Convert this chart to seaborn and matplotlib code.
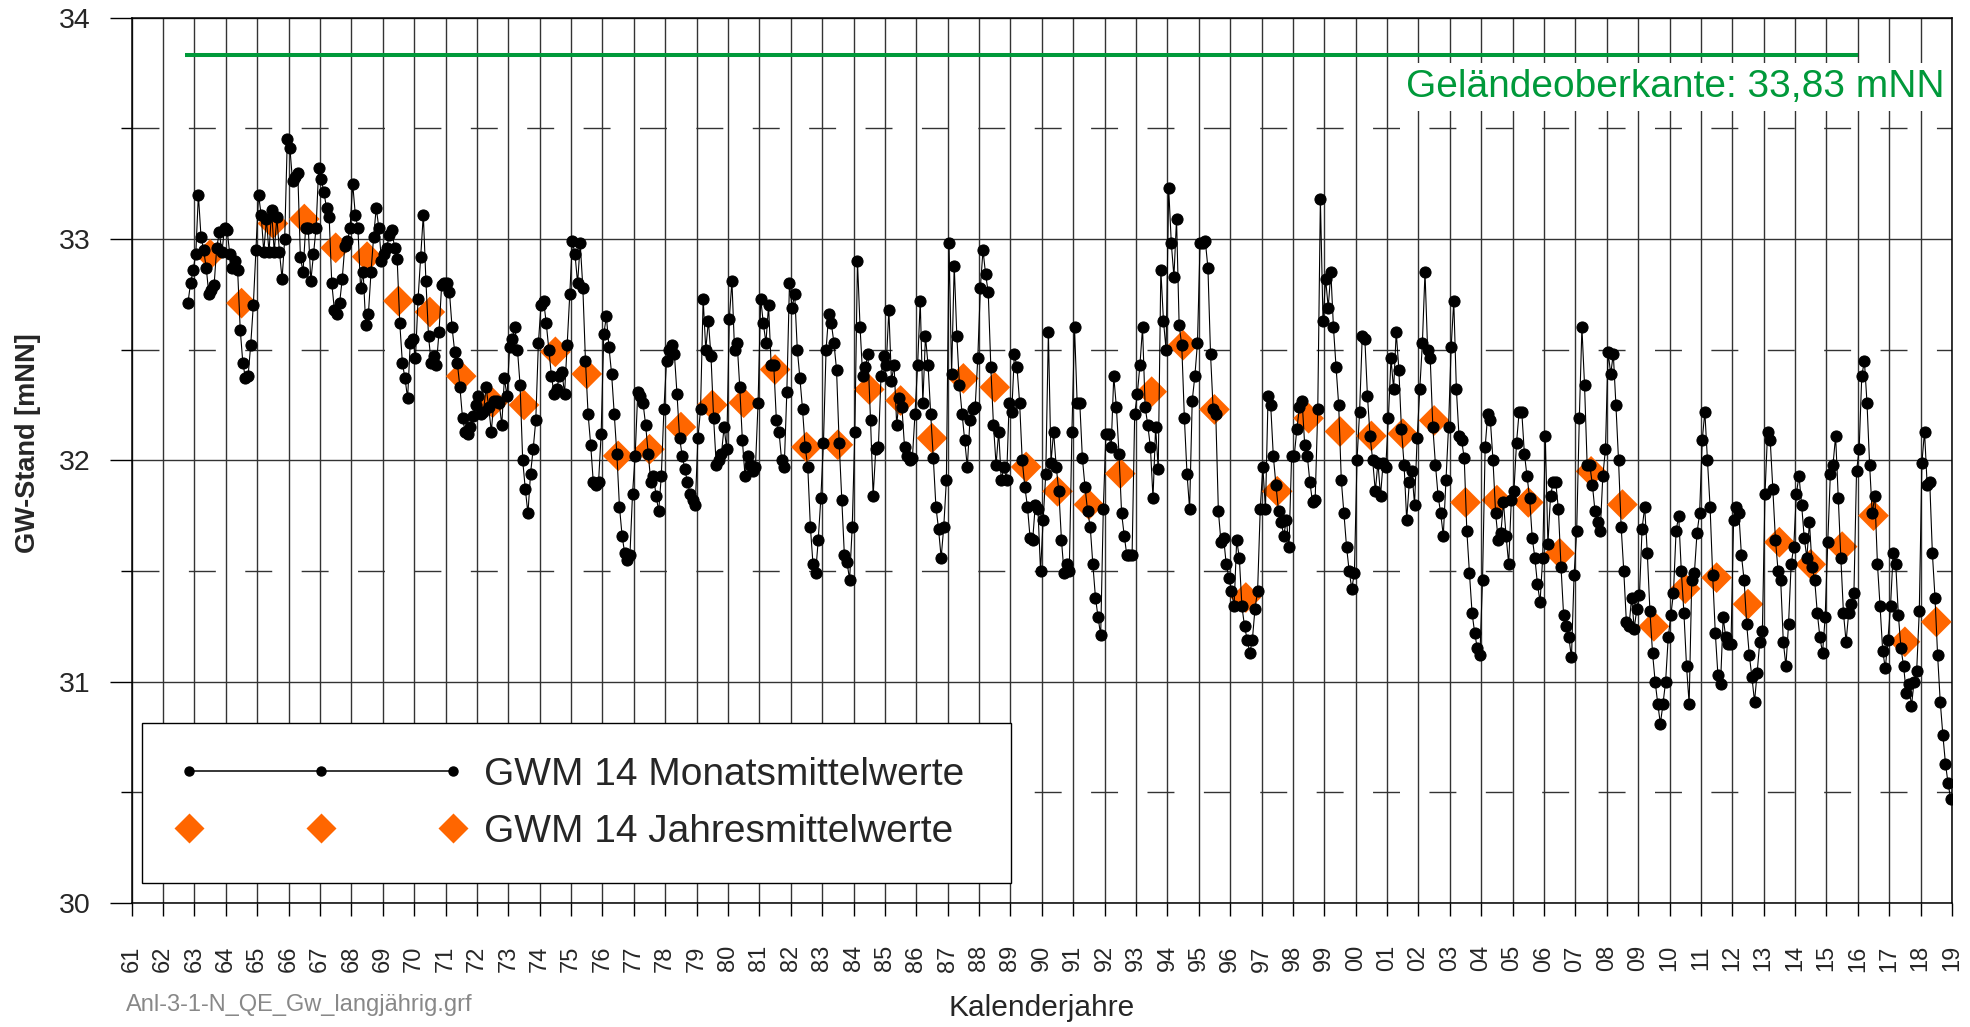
import numpy as np
import pandas as pd
import matplotlib.pyplot as plt
import seaborn as sns
from matplotlib.lines import Line2D
from matplotlib.legend_handler import HandlerLine2D

# GWM 14 Monatsmittelwerte [mNN], Okt 1962 - Dez 2018, eine Zeile je Jahr
gw_1960s = [
    32.71, 32.80, 32.86,                                                          # 1962 (Okt-Dez)
    32.93, 33.20, 33.01, 32.95, 32.87, 32.75, 32.77, 32.79, 32.96, 33.03, 32.94, 33.05,  # 1963
    33.04, 32.93, 32.87, 32.90, 32.86, 32.59, 32.44, 32.37, 32.38, 32.52, 32.70, 32.95,  # 1964
    33.20, 33.11, 32.94, 33.09, 32.94, 33.13, 32.94, 33.10, 32.94, 32.82, 33.00, 33.45,  # 1965
    33.41, 33.26, 33.28, 33.30, 32.92, 32.85, 33.05, 33.05, 32.81, 32.93, 33.05, 33.32,  # 1966
    33.27, 33.21, 33.14, 33.10, 32.80, 32.68, 32.66, 32.71, 32.82, 32.97, 32.99, 33.05,  # 1967
    33.25, 33.11, 33.05, 32.78, 32.85, 32.61, 32.66, 32.85, 33.01, 33.14, 33.05, 32.90,  # 1968
    32.93, 32.96, 33.02, 33.04, 32.96, 32.91, 32.62, 32.44, 32.37, 32.28, 32.53, 32.55,  # 1969
]
gw_1970s = [
    32.46, 32.73, 32.92, 33.11, 32.81, 32.56, 32.44, 32.47, 32.43, 32.58, 32.79, 32.80,  # 1970
    32.80, 32.76, 32.60, 32.49, 32.44, 32.33, 32.19, 32.13, 32.12, 32.15, 32.20, 32.25,  # 1971
    32.29, 32.21, 32.22, 32.33, 32.24, 32.13, 32.27, 32.27, 32.26, 32.16, 32.37, 32.29,  # 1972
    32.51, 32.55, 32.60, 32.50, 32.34, 32.00, 31.87, 31.76, 31.94, 32.05, 32.18, 32.53,  # 1973
    32.70, 32.72, 32.62, 32.50, 32.38, 32.30, 32.32, 32.38, 32.40, 32.30, 32.52, 32.75,  # 1974
    32.99, 32.93, 32.80, 32.98, 32.78, 32.45, 32.21, 32.07, 31.90, 31.89, 31.90, 32.12,  # 1975
    32.57, 32.65, 32.51, 32.39, 32.21, 32.03, 31.79, 31.66, 31.58, 31.55, 31.57, 31.85,  # 1976
    32.02, 32.31, 32.29, 32.26, 32.16, 32.03, 31.90, 31.93, 31.84, 31.77, 31.93, 32.23,  # 1977
    32.45, 32.50, 32.52, 32.48, 32.30, 32.10, 32.02, 31.96, 31.90, 31.85, 31.82, 31.80,  # 1978
    32.10, 32.23, 32.73, 32.50, 32.63, 32.47, 32.19, 31.98, 32.00, 32.03, 32.15, 32.05,  # 1979
]
gw_1980s = [
    32.64, 32.81, 32.50, 32.53, 32.33, 32.09, 31.93, 32.02, 31.98, 31.95, 31.97, 32.26,  # 1980
    32.73, 32.62, 32.53, 32.70, 32.43, 32.43, 32.18, 32.13, 32.00, 31.97, 32.31, 32.80,  # 1981
    32.69, 32.75, 32.50, 32.37, 32.23, 32.06, 31.97, 31.70, 31.53, 31.49, 31.64, 31.83,  # 1982
    32.08, 32.50, 32.66, 32.62, 32.53, 32.41, 32.08, 31.82, 31.57, 31.54, 31.46, 31.70,  # 1983
    32.13, 32.90, 32.60, 32.38, 32.42, 32.48, 32.18, 31.84, 32.05, 32.06, 32.38, 32.47,  # 1984
    32.43, 32.68, 32.36, 32.43, 32.16, 32.28, 32.24, 32.06, 32.02, 32.00, 32.01, 32.21,  # 1985
    32.43, 32.72, 32.26, 32.56, 32.43, 32.21, 32.01, 31.79, 31.69, 31.56, 31.70, 31.91,  # 1986
    32.98, 32.39, 32.88, 32.56, 32.34, 32.21, 32.09, 31.97, 32.18, 32.23, 32.24, 32.46,  # 1987
    32.78, 32.95, 32.84, 32.76, 32.42, 32.16, 31.98, 32.13, 31.91, 31.97, 31.91, 32.26,  # 1988
    32.22, 32.48, 32.42, 32.26, 32.00, 31.88, 31.79, 31.65, 31.64, 31.80, 31.78, 31.50,  # 1989
]
gw_1990s = [
    31.73, 31.94, 32.58, 31.99, 32.13, 31.97, 31.86, 31.64, 31.49, 31.53, 31.50, 32.13,  # 1990
    32.60, 32.26, 32.26, 32.01, 31.88, 31.77, 31.70, 31.53, 31.38, 31.29, 31.21, 31.78,  # 1991
    32.12, 32.12, 32.06, 32.38, 32.24, 32.03, 31.76, 31.66, 31.57, 31.57, 31.57, 32.21,  # 1992
    32.30, 32.43, 32.60, 32.24, 32.16, 32.06, 31.83, 32.15, 31.96, 32.86, 32.63, 32.50,  # 1993
    33.23, 32.98, 32.83, 33.09, 32.61, 32.52, 32.19, 31.94, 31.78, 32.27, 32.38, 32.53,  # 1994
    32.98, 32.98, 32.99, 32.87, 32.48, 32.23, 32.21, 31.77, 31.63, 31.65, 31.53, 31.47,  # 1995
    31.41, 31.34, 31.64, 31.56, 31.34, 31.25, 31.19, 31.13, 31.19, 31.33, 31.41, 31.78,  # 1996
    31.97, 31.78, 32.29, 32.25, 32.02, 31.89, 31.77, 31.72, 31.66, 31.73, 31.61, 32.02,  # 1997
    32.02, 32.14, 32.24, 32.27, 32.07, 32.02, 31.90, 31.81, 31.82, 32.23, 33.18, 32.63,  # 1998
    32.82, 32.69, 32.85, 32.60, 32.42, 32.25, 31.91, 31.76, 31.61, 31.50, 31.42, 31.49,  # 1999
]
gw_2000s = [
    32.00, 32.22, 32.56, 32.55, 32.29, 32.11, 32.00, 31.86, 31.99, 31.84, 31.99, 31.97,  # 2000
    32.19, 32.46, 32.32, 32.58, 32.41, 32.14, 31.98, 31.73, 31.90, 31.95, 31.80, 32.10,  # 2001
    32.32, 32.53, 32.85, 32.50, 32.46, 32.15, 31.98, 31.84, 31.76, 31.66, 31.91, 32.15,  # 2002
    32.51, 32.72, 32.32, 32.11, 32.09, 32.01, 31.68, 31.49, 31.31, 31.22, 31.15, 31.12,  # 2003
    31.46, 32.06, 32.21, 32.18, 32.00, 31.76, 31.64, 31.67, 31.81, 31.66, 31.53, 31.82,  # 2004
    31.86, 32.08, 32.22, 32.22, 32.03, 31.93, 31.83, 31.65, 31.56, 31.44, 31.36, 31.56,  # 2005
    32.11, 31.62, 31.84, 31.90, 31.90, 31.78, 31.52, 31.30, 31.25, 31.20, 31.11, 31.48,  # 2006
    31.68, 32.19, 32.60, 32.34, 31.98, 31.98, 31.89, 31.77, 31.72, 31.68, 31.93, 32.05,  # 2007
    32.49, 32.39, 32.48, 32.25, 32.00, 31.70, 31.50, 31.27, 31.25, 31.38, 31.24, 31.33,  # 2008
    31.39, 31.69, 31.79, 31.58, 31.32, 31.13, 31.00, 30.90, 30.81, 30.90, 31.00, 31.20,  # 2009
]
gw_2010s = [
    31.30, 31.40, 31.68, 31.75, 31.50, 31.31, 31.07, 30.90, 31.46, 31.49, 31.67, 31.76,  # 2010
    32.09, 32.22, 32.00, 31.79, 31.48, 31.22, 31.03, 30.99, 31.29, 31.20, 31.17, 31.17,  # 2011
    31.73, 31.79, 31.76, 31.57, 31.46, 31.26, 31.12, 31.02, 30.91, 31.04, 31.18, 31.23,  # 2012
    31.85, 32.13, 32.09, 31.87, 31.64, 31.50, 31.46, 31.18, 31.07, 31.26, 31.53, 31.61,  # 2013
    31.85, 31.93, 31.80, 31.65, 31.56, 31.72, 31.52, 31.46, 31.31, 31.20, 31.13, 31.29,  # 2014
    31.63, 31.94, 31.98, 32.11, 31.83, 31.56, 31.31, 31.18, 31.31, 31.35, 31.40, 31.95,  # 2015
    32.05, 32.38, 32.45, 32.26, 31.98, 31.76, 31.84, 31.53, 31.34, 31.14, 31.06, 31.19,  # 2016
    31.34, 31.58, 31.53, 31.30, 31.15, 31.07, 30.95, 30.99, 30.89, 31.00, 31.05, 31.32,  # 2017
    31.99, 32.13, 31.89, 31.90, 31.58, 31.38, 31.12, 30.91, 30.76, 30.63, 30.54, 30.47,  # 2018
]

# GWM 14 Jahresmittelwerte [mNN]
years = list(range(1963, 2019))
gw_yearly = [
    32.93, 32.71, 33.07, 33.09, 32.96, 32.92, 32.72,                # 1963-69
    32.67, 32.38, 32.26, 32.25, 32.49, 32.39, 32.02, 32.05, 32.15, 32.25,  # 1970-79
    32.26, 32.41, 32.06, 32.07, 32.32, 32.27, 32.10, 32.37, 32.33, 31.97,  # 1980-89
    31.86, 31.80, 31.94, 32.31, 32.52, 32.23, 31.38, 31.86, 32.19, 32.13,  # 1990-99
    32.11, 32.12, 32.18, 31.81, 31.82, 31.81, 31.58, 31.95, 31.80, 31.25,  # 2000-09
    31.42, 31.47, 31.35, 31.63, 31.53, 31.61, 31.75, 31.18, 31.27,         # 2010-18
]

# Gelaendeoberkante
gok_level = 33.83
gok_from, gok_to = 1962.7, 2016.0

green = '#00993a'
orange = '#ff6600'

# Monatswerte in Dezimaljahre (Monatsmitte)
monthly = gw_1960s + gw_1970s + gw_1980s + gw_1990s + gw_2000s + gw_2010s
dates = pd.date_range('1962-10-01', periods=len(monthly), freq='MS')
df_m = pd.DataFrame({'t': dates.year + (dates.month - 0.5) / 12, 'gw': monthly})
df_y = pd.DataFrame({'t': np.array(years) + 0.5, 'gw': gw_yearly})

sns.set_style('white', {'xtick.bottom': True, 'ytick.left': True})
plt.rcParams['font.family'] = ['Liberation Sans', 'DejaVu Sans']

fig = plt.figure(figsize=(19.7, 10.27), dpi=100)
ax = fig.add_axes([0.06685, 0.12074, 0.92401, 0.86212])

# Jahresmittel (Rauten) unter den Monatswerten
sns.scatterplot(data=df_y, x='t', y='gw', marker='D', s=245, color=orange,
                edgecolor='none', ax=ax, zorder=3, legend=False)
sns.lineplot(data=df_m, x='t', y='gw', color='black', linewidth=0.8,
             marker='o', markersize=8, markeredgecolor='black',
             estimator=None, sort=False, ax=ax, zorder=4)

ax.hlines(gok_level, gok_from, gok_to, color=green, linewidth=2.9, zorder=2)
ax.text(0.9961, 0.9216, 'Geländeoberkante: 33,83 mNN', transform=ax.transAxes,
        ha='right', va='center', color=green, fontsize=28, zorder=5,
        bbox=dict(boxstyle='square,pad=0.15', facecolor='white', edgecolor='none'))

# Achsen
ax.set_xlim(1961, 2019)
ax.set_ylim(30, 34)
xt = list(range(1961, 2020))
ax.set_xticks(xt)
ax.set_xticklabels([f'{y % 100:02d}' for y in xt])
ax.set_yticks([30, 31, 32, 33, 34])
ax.set_yticks([30.5, 31.5, 32.5, 33.5], minor=True)

ax.tick_params(axis='x', which='major', bottom=True, direction='out', length=9.4,
               width=1, color='black', labelsize=17, pad=21, labelrotation=90)
ax.tick_params(axis='y', which='major', left=True, direction='out', length=16,
               width=1, color='black', labelsize=20.5, pad=13.5)
ax.tick_params(axis='y', which='minor', left=True, direction='out', length=8,
               width=1, color='black')

ax.grid(axis='x', which='major', color='#333333', linewidth=1.0)
ax.grid(axis='y', which='major', color='#333333', linewidth=1.0)
ax.grid(axis='y', which='minor', color='#333333', linewidth=1.0,
        linestyle=(0, (19.4, 21.2)))
ax.set_axisbelow(True)

for sp in ax.spines.values():
    sp.set_visible(True)
    sp.set_color('black')
    sp.set_linewidth(1.1)

ax.set_ylabel('GW-Stand [mNN]', fontsize=19.5, fontweight='bold', va='center')
ax.yaxis.set_label_coords(-0.057, 0.5195)
ax.set_xlabel('Kalenderjahre', fontsize=21.5, va='center')
ax.xaxis.set_label_coords(0.5, -0.1186)

# Legende
h_month = Line2D([], [], color='black', linewidth=1.1, marker='o', markersize=6.5)
h_year = Line2D([], [], linestyle='none', marker='D', markersize=15, color=orange,
                markeredgecolor='none')
leg = ax.legend([h_month, h_year],
                ['GWM 14 Monatsmittelwerte', 'GWM 14 Jahresmittelwerte'],
                loc='lower left', bbox_to_anchor=(0.00566, 0.0226, 0.4774, 0.18),
                mode='expand', borderaxespad=0, numpoints=3,
                handler_map={h_month: HandlerLine2D(marker_pad=0, xpad=0.35),
                             h_year: HandlerLine2D(marker_pad=0, xpad=0.35)},
                handlelength=7.15, handletextpad=0.8, borderpad=0.85,
                labelspacing=0.55, fontsize=28, frameon=True, fancybox=False,
                framealpha=1, edgecolor='black')
leg.get_frame().set_linewidth(1.0)

fig.text(126 / 1970, 1 - 1005 / 1027, 'Anl-3-1-N_QE_Gw_langjährig.grf',
         color='#888888', fontsize=17, ha='left', va='center')

fig.savefig('out.png', dpi=100)
